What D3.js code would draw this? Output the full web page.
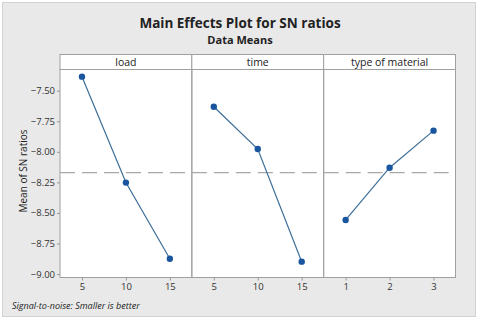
<!DOCTYPE html>
<html>
<head>
<meta charset="utf-8">
<script src="https://cdn.jsdelivr.net/npm/d3@7"></script>
<style>
html,body{margin:0;padding:0;background:#fff;}
svg{display:block;}
text{font-family:"Open Sans","Noto Sans","DejaVu Sans",sans-serif;fill:#333;}
</style>
</head>
<body>
<svg id="chart" width="480" height="320"></svg>
<script>
const factors = ["load", "time", "type of material"];
const levelsLoad = ["5", "10", "15"];
const levelsTime = ["5", "10", "15"];
const levelsMaterial = ["1", "2", "3"];
const snLoad = [-7.385, -8.252, -8.875];
const snTime = [-7.631, -7.977, -8.899];
const snMaterial = [-8.558, -8.130, -7.827];
const yTicks = [-7.50, -7.75, -8.00, -8.25, -8.50, -8.75, -9.00];
const titleText = "Main Effects Plot for SN ratios";
const subtitleText = "Data Means";
const yLabel = "Mean of SN ratios";
const footnote = "Signal-to-noise: Smaller is better";

const panels = [
  {name: factors[0], levels: levelsLoad, values: snLoad},
  {name: factors[1], levels: levelsTime, values: snTime},
  {name: factors[2], levels: levelsMaterial, values: snMaterial}
];
const grandMean = d3.mean(snLoad.concat(snTime, snMaterial));

const svg = d3.select("#chart");
const W = 480, H = 320;
const plotLeft = 60, plotRight = 455.5, stripTop = 54.5, stripBottom = 69.5, plotBottom = 277.5;

// outer background
svg.append("rect").attr("x", 2.5).attr("y", 2.5).attr("width", 473).attr("height", 314)
  .attr("fill", "#e9e9e9").attr("stroke", "#d2d2d2");

svg.append("text").attr("x", 240).attr("y", 28).attr("text-anchor", "middle")
  .style("font-size", "13.5px").style("font-weight", "bold").style("fill", "#222").text(titleText);
svg.append("text").attr("x", 240).attr("y", 44).attr("text-anchor", "middle")
  .style("font-size", "11px").style("font-weight", "bold").style("fill", "#222").text(subtitleText);

const y = d3.scaleLinear().domain([-9.0, -7.5]).range([274, 90.7]);

const xBand = d3.scaleBand().domain(factors).range([plotLeft, plotRight]).paddingInner(0).paddingOuter(0);

// plot background
svg.append("rect").attr("x", plotLeft).attr("y", stripTop).attr("width", plotRight - plotLeft)
  .attr("height", plotBottom - stripTop).attr("fill", "#fff");

// y axis
const yAxis = d3.axisLeft(y).tickValues(yTicks).tickFormat(d3.format(".2f")).tickSize(3).tickPadding(2);
const gy = svg.append("g").attr("transform", `translate(${plotLeft},0)`).call(yAxis);
gy.select(".domain").remove();
gy.selectAll(".tick line").attr("stroke", "#999");
gy.selectAll(".tick text").style("font-size", "9.5px").style("fill", "#333")
  .style("font-family", "'Open Sans','Noto Sans',sans-serif");

svg.append("text").attr("transform", "translate(27,171) rotate(-90)").attr("text-anchor", "middle")
  .style("font-size", "10px").style("fill", "#222").text(yLabel);

panels.forEach(p => {
  const x0 = xBand(p.name), bw = xBand.bandwidth();
  const x = d3.scalePoint().domain(p.levels).range([x0, x0 + bw]).padding(0.5);
  const g = svg.append("g");

  // strip
  g.append("rect").attr("x", x0).attr("y", stripTop).attr("width", bw).attr("height", stripBottom - stripTop)
    .attr("fill", "#fff").attr("stroke", "#a0a0a0");
  g.append("text").attr("x", x0 + bw / 2).attr("y", stripBottom - 4).attr("text-anchor", "middle")
    .style("font-size", "10.5px").style("fill", "#222").text(p.name);

  // panel frame
  g.append("rect").attr("x", x0).attr("y", stripBottom).attr("width", bw).attr("height", plotBottom - stripBottom)
    .attr("fill", "none").attr("stroke", "#a0a0a0");

  // reference line
  g.append("line").attr("x1", x0).attr("x2", x0 + bw).attr("y1", y(grandMean)).attr("y2", y(grandMean))
    .attr("stroke", "#a8a8a8").attr("stroke-width", 1.2).attr("stroke-dasharray", "15,7");

  // x axis
  const xAxis = d3.axisBottom(x).tickSize(3).tickPadding(3);
  const gx = g.append("g").attr("transform", `translate(0,${plotBottom})`).call(xAxis);
  gx.select(".domain").remove();
  gx.selectAll(".tick line").attr("stroke", "#999");
  gx.selectAll(".tick text").style("font-size", "9.5px").style("fill", "#333")
    .style("font-family", "'Open Sans','Noto Sans',sans-serif");

  const line = d3.line().x((d, i) => x(p.levels[i])).y(d => y(d));
  g.append("path").datum(p.values).attr("d", line).attr("fill", "none")
    .attr("stroke", "#3d6f99").attr("stroke-width", 1.2);
  g.selectAll("circle").data(p.values).enter().append("circle")
    .attr("cx", (d, i) => x(p.levels[i])).attr("cy", d => y(d)).attr("r", 3.2)
    .attr("fill", "#1a56a0");
});

svg.append("text").attr("x", 12).attr("y", 309)
  .style("font-size", "9px").style("font-style", "italic").style("fill", "#222").text(footnote);
</script>
</body>
</html>
